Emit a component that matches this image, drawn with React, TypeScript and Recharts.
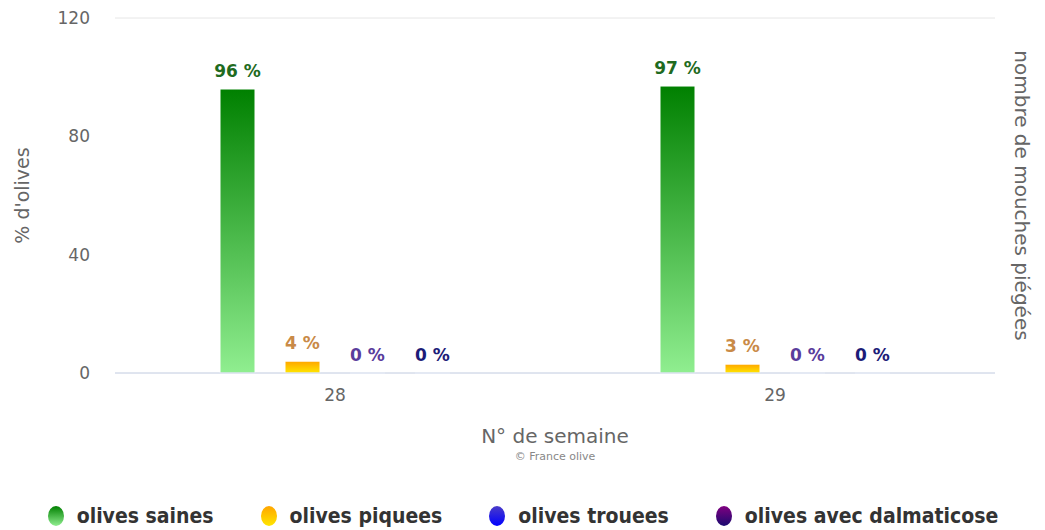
import React from "react";
import {
  Bar,
  BarChart,
  CartesianGrid,
  Legend,
  XAxis,
  YAxis,
} from "recharts";

// Week numbers and % of olives per category.
const WEEKS = ["28", "29"];
const SAINES = [96, 97];
const PIQUEES = [4, 3];
const TROUEES = [0, 0];
const DALMATICOSE = [0, 0];
const Y_TICKS = [0, 40, 80, 120];

const SERIES = [
  { key: "saines", name: "olives saines", top: "#008000", bottom: "#90ee90", label: "#1f6b1f" },
  { key: "piquees", name: "olives piquees", top: "#ffa500", bottom: "#ffe600", label: "#c98a47" },
  { key: "trouees", name: "olives trouees", top: "#4b3cc8", bottom: "#0000ff", label: "#5a3c9c" },
  { key: "dalmaticose", name: "olives avec dalmaticose", top: "#800080", bottom: "#1a0a70", label: "#1c1c78" },
];

const data = WEEKS.map((w, i) => ({
  week: w,
  saines: SAINES[i],
  piquees: PIQUEES[i],
  trouees: TROUEES[i],
  dalmaticose: DALMATICOSE[i],
}));

const AXIS_FONT = "DejaVu Sans, Verdana, sans-serif";
const TICK = { fontFamily: AXIS_FONT, fontSize: 17, fill: "#666666" };

function LeftTitle({ viewBox }: any) {
  const cx = viewBox.x + 22;
  const cy = viewBox.y + viewBox.height / 2;
  return (
    <text x={cx} y={cy} transform={`rotate(-90 ${cx} ${cy})`} textAnchor="middle" dominantBaseline="central"
      fontFamily={AXIS_FONT} fontSize={19} fill="#666666">
      % d'olives
    </text>
  );
}

function RightTitle({ viewBox }: any) {
  const cx = viewBox.x + 27;
  const cy = viewBox.y + viewBox.height / 2;
  return (
    <text x={cx} y={cy} transform={`rotate(90 ${cx} ${cy})`} textAnchor="middle" dominantBaseline="central"
      fontFamily={AXIS_FONT} fontSize={20} fill="#666666">
      nombre de mouches piégées
    </text>
  );
}

function BottomTitle({ viewBox }: any) {
  const cx = viewBox.x + viewBox.width / 2;
  const y = viewBox.y;
  return (
    <g>
      <text x={cx} y={y + 63} textAnchor="middle" dominantBaseline="central"
        fontFamily={AXIS_FONT} fontSize={20} fill="#666666">
        N° de semaine
      </text>
      <text x={cx} y={y + 83} textAnchor="middle" dominantBaseline="central"
        fontFamily={AXIS_FONT} fontSize={11} fill="#888888">
        © France olive
      </text>
    </g>
  );
}

function LegendContent() {
  return (
    <div style={{ display: "flex", justifyContent: "center", alignItems: "center", gap: 46, height: 40,
      position: "relative", top: 6 }}>
      {SERIES.map((s) => (
        <div key={s.key} style={{ display: "flex", alignItems: "center", gap: 12 }}>
          <svg width={18} height={22}>
            <defs>
              <linearGradient id={`lg-${s.key}`} x1="0" y1="0" x2="0" y2="1">
                <stop offset="0%" stopColor={s.top} />
                <stop offset="100%" stopColor={s.bottom} />
              </linearGradient>
            </defs>
            <ellipse cx={9} cy={11} rx={8} ry={10} fill={`url(#lg-${s.key})`} />
          </svg>
          <span style={{ fontFamily: "DejaVu Sans Condensed, DejaVu Sans, sans-serif", fontWeight: "bold", fontSize: 21, color: "#333333" }}>
            {s.name}
          </span>
        </div>
      ))}
    </div>
  );
}

export default function App() {
  return (
    <div style={{ position: "absolute", left: 0, top: 0, width: 1045, height: 530, background: "#ffffff" }}>
      <BarChart width={1045} height={530} data={data} margin={{ top: 18, right: 0, bottom: 0, left: 0 }}
        barSize={35} barGap={30}>
        <defs>
          {SERIES.map((s) => (
            <linearGradient key={s.key} id={`g-${s.key}`} x1="0" y1="0" x2="0" y2="1">
              <stop offset="0%" stopColor={s.top} />
              <stop offset="100%" stopColor={s.bottom} />
            </linearGradient>
          ))}
        </defs>
        <CartesianGrid vertical={false} stroke="#e6e6e6" />
        <XAxis dataKey="week" height={117} tick={TICK} tickLine={false} tickSize={0} tickMargin={16}
          axisLine={{ stroke: "#ccd6eb" }} label={<BottomTitle />} />
        <YAxis yAxisId="left" width={115} domain={[0, 120]} ticks={Y_TICKS} tick={TICK}
          axisLine={false} tickLine={false} tickSize={0} tickMargin={25} label={<LeftTitle />} />
        <YAxis yAxisId="right" orientation="right" width={50} tick={false} axisLine={false} tickLine={false}
          label={<RightTitle />} />
        <Legend verticalAlign="bottom" content={<LegendContent />} wrapperStyle={{ height: 40 }} />
        {SERIES.map((s) => (
          <Bar key={s.key} yAxisId="left" dataKey={s.key} name={s.name} fill={`url(#g-${s.key})`}
            stroke="#ffffff" strokeWidth={1} minPointSize={0.01} isAnimationActive={false}
            label={{
              position: "top",
              offset: 12,
              fill: s.label,
              fontFamily: AXIS_FONT,
              fontWeight: "bold",
              fontSize: 17,
              formatter: (v: any) => `${v} %`,
            }} />
        ))}
      </BarChart>
    </div>
  );
}
